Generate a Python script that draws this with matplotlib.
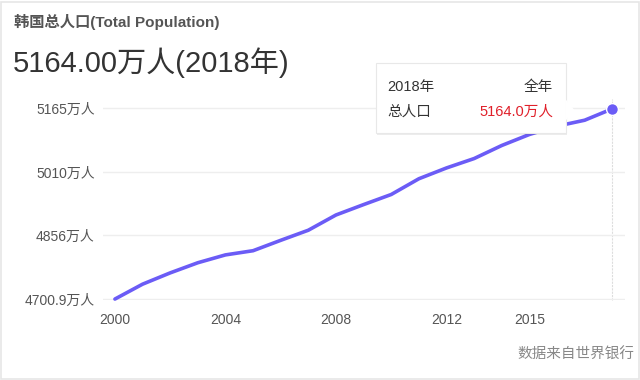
import matplotlib
matplotlib.use("Agg")
import matplotlib.pyplot as plt
from matplotlib.patches import FancyBboxPatch, Polygon, Rectangle

plt.rcParams['font.family'] = ['Liberation Sans', 'Noto Sans CJK SC', 'DejaVu Sans']

years = [2000, 2001, 2002, 2003, 2004, 2005, 2006, 2007, 2008, 2009,
         2010, 2011, 2012, 2013, 2014, 2015, 2016, 2017, 2018]
pop = [4700.8, 4737.0, 4764.5, 4789.2, 4808.3, 4818.5, 4843.8, 4868.4, 4905.5, 4930.8,
       4955.4, 4993.7, 5020.0, 5042.9, 5074.7, 5101.5, 5121.8, 5136.2, 5164.0]
yticks = [4700.9, 4856, 5010, 5165]
ylabels = ['4700.9万人', '4856万人', '5010万人', '5165万人']
xticks = [2000, 2004, 2008, 2012, 2015]

line_col = '#6b5cf6'

fig = plt.figure(figsize=(6.4, 3.8), dpi=100)
fig.patches.append(Rectangle((0.002, 0.002), 0.996, 0.993, transform=fig.transFigure,
                             fill=False, edgecolor='#e6e6e6', lw=1.2))

ax = fig.add_axes([0.161, 0.21, 0.816, 0.508])
ax.plot(years, pop, color=line_col, lw=2.6, solid_capstyle='round', zorder=3, clip_on=False)
ax.plot(years[-1], pop[-1], 'o', ms=8.5, color=line_col, mec='white', mew=1, zorder=4, clip_on=False)
ax.axvline(years[-1], ymax=1.04, color='#dddddd', lw=0.8, ls=(0, (2, 1)), clip_on=False, zorder=1)

ax.set_xlim(1999.57, 2018.47)
ax.set_ylim(4698, 5168)
ax.set_yticks(yticks)
ax.set_yticklabels(ylabels)
ax.set_xticks(xticks)
ax.grid(axis='y', color='#eeeeee', lw=1)
for s in ax.spines.values():
    s.set_visible(False)
ax.tick_params(length=0, labelsize=10, labelcolor='#555555')
ax.tick_params(axis='y', pad=6)
ax.tick_params(axis='x', pad=9)

fig.text(0.022, 0.942, '韩国总人口(Total Population)', fontsize=11, fontweight='bold',
         color='#555555', va='center')
fig.text(0.02, 0.835, '5164.00万人(2018年)', fontsize=21, color='#333333', va='center')
fig.text(0.992, 0.067, '数据来自世界银行', fontsize=10.5, color='#888888', ha='right', va='center')

# tooltip
bx0, by0, bx1, by1 = 376 / 640, 1 - 133 / 380, 566 / 640, 1 - 63 / 380
fig.patches.append(FancyBboxPatch((bx0 + 0.002, by0 - 0.006), bx1 - bx0, by1 - by0,
                                  boxstyle='square,pad=0', transform=fig.transFigure,
                                  facecolor='#00000012', edgecolor='none', zorder=5))
fig.patches.append(FancyBboxPatch((bx0, by0), bx1 - bx0, by1 - by0, boxstyle='square,pad=0',
                                  transform=fig.transFigure, facecolor='white',
                                  edgecolor='#e8e8e8', lw=0.8, zorder=6))
tri_y = 1 - 110 / 380
fig.patches.append(Polygon([(bx1 - 0.0015, tri_y + 0.03), (bx1 + 0.013, tri_y), (bx1 - 0.0015, tri_y - 0.03)],
                           closed=True, transform=fig.transFigure, facecolor='white',
                           edgecolor='none', zorder=7))
fig.text(387 / 640, 1 - 87 / 380, '2018年', fontsize=10.5, color='#333333', va='center', zorder=8)
fig.text(553 / 640, 1 - 87 / 380, '全年', fontsize=10.5, color='#333333', va='center', ha='right', zorder=8)
fig.text(387 / 640, 1 - 112 / 380, '总人口', fontsize=10.5, color='#333333', va='center', zorder=8)
fig.text(553 / 640, 1 - 112 / 380, '5164.0万人', fontsize=10.5, color='#e0202a', va='center', ha='right', zorder=8)

fig.savefig('out.png', dpi=100, facecolor='white')
